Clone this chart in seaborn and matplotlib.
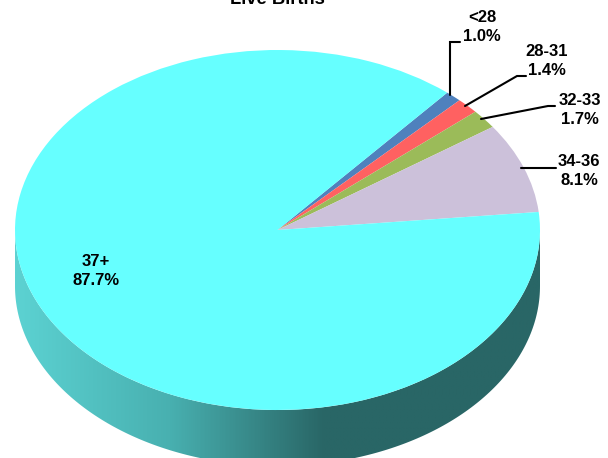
import numpy as np
import matplotlib
matplotlib.use("Agg")
import matplotlib.pyplot as plt
from matplotlib.patches import Polygon
from matplotlib.colors import LinearSegmentedColormap
import seaborn as sns

categories = ["<28", "28-31", "32-33", "34-36", "37+"]
shares = [1.0, 1.4, 1.7, 8.1, 87.7]
share_labels = ["1.0%", "1.4%", "1.7%", "8.1%", "87.7%"]
colours = ["#4F81BD", "#FF6161", "#9BBB59", "#CCC1DA", "#66FFFF"]
title = "Live Births"

sns.set_theme(style="white")
plt.rcParams["font.family"] = ["Liberation Sans", "DejaVu Sans"]
palette = sns.color_palette(colours)

W, H = 608, 458
CX, CY, RX, RY, DEPTH = 277.5, 230, 262.5, 180, 56


def px(x, y):
    return (x - CX) / RX, (CY - y) / RY


fig = plt.figure(figsize=(W / 100, H / 100), dpi=100)
ax = fig.add_axes([0, 0, 1, 1])

d = DEPTH / RY
t = np.linspace(np.pi, 2 * np.pi, 200)
outline = np.column_stack([
    np.r_[np.cos(t), np.cos(t[::-1])],
    np.r_[np.sin(t) - d, np.sin(t[::-1])],
])
wall = Polygon(outline, closed=True, transform=ax.transData, fc="none", ec="none")
ax.add_patch(wall)
cmap = LinearSegmentedColormap.from_list("wall", ["#5CD2D2", "#48B0B0", "#296666"])
x0, _ = px(15, 0)
x1, _ = px(325, 0)
grad = np.clip((np.linspace(-1, 1, 600) - x0) / (x1 - x0), 0, 1)[None, :]
img = ax.imshow(grad, cmap=cmap, vmin=0, vmax=1, extent=(-1, 1, -1 - d, 0), aspect="auto", zorder=1)
img.set_clip_path(wall)

start = 5.8 + 3.6 * (shares[3] + shares[2] + shares[1] + shares[0])
wedges, _ = ax.pie(shares, colors=palette, startangle=start, counterclock=False,
                   radius=1, center=(0, 0), wedgeprops=dict(linewidth=0, zorder=2))
ax.set_aspect("auto")
ax.set_xlim(-CX / RX, (W - CX) / RX)
ax.set_ylim(-(H - CY) / RY, CY / RY)
ax.axis("off")

leaders = [
    [(450, 95), (450, 42), (460, 42)],
    [(465, 106), (517, 76), (526, 76)],
    [(481, 119), (548, 106), (555, 106)],
    [(521, 168), (556, 168)],
]
for pts in leaders:
    xy = np.array([px(*p) for p in pts])
    ax.plot(xy[:, 0], xy[:, 1], color="black", lw=1.5, zorder=3, solid_joinstyle="miter")

label_pos = [(482, 27), (547, 61), (580, 110), (579, 171), (96, 271)]
for cat, lab, (x, y) in zip(categories, share_labels, label_pos):
    ax.text(*px(x, y), f"{cat}\n{lab}", ha="center", va="center", fontsize=12,
            fontweight="bold", color="black", linespacing=1.38, zorder=4)

ax.text(*px(277, 0), title, ha="center", va="center", fontsize=13.2,
        fontweight="bold", color="black", zorder=4)

fig.savefig("out.png", dpi=100)
